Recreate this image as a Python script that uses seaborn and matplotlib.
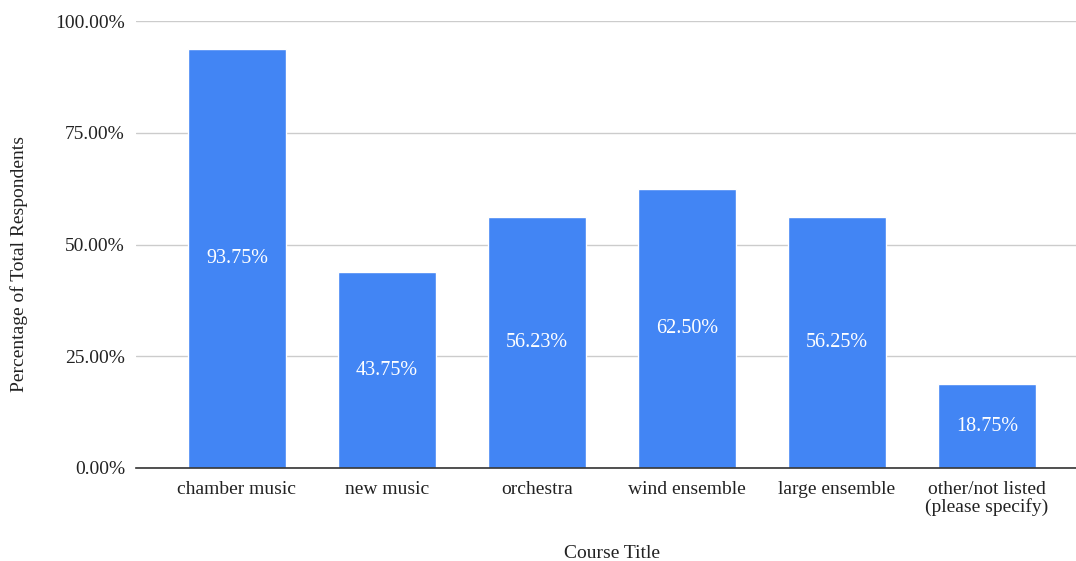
import matplotlib
matplotlib.use("Agg")
import matplotlib.pyplot as plt
import seaborn as sns
import pandas as pd
from matplotlib.ticker import FuncFormatter

courses = ["chamber music", "new music", "orchestra", "wind ensemble",
           "large ensemble", "other/not listed\n(please specify)"]
percent = [93.75, 43.75, 56.23, 62.50, 56.25, 18.75]
y_ticks = [0, 25, 50, 75, 100]

df = pd.DataFrame({"course": courses, "percent": percent})

sns.set_theme(style="white")
plt.rcParams["font.family"] = ["Liberation Serif", "DejaVu Serif"]

W, H = 1076, 561
fig = plt.figure(figsize=(W / 100, H / 100), dpi=100)
ax = fig.add_axes([136 / W, 93 / H, 940 / W, 447 / H])

sns.barplot(data=df, x="course", y="percent", color="#4285F4",
            saturation=1, width=0.65, ax=ax, zorder=3)

for patch, val in zip(ax.patches, percent):
    cx = patch.get_x() + patch.get_width() / 2
    ax.text(cx, val / 2, f"{val:.2f}%", ha="center", va="center",
            color="white", fontsize=14.5, zorder=4)

ax.set_ylim(0, 100)
ax.set_xlim(-0.673, 5.593)
ax.set_yticks(y_ticks)
ax.yaxis.set_major_formatter(FuncFormatter(lambda v, p: f"{v:.2f}%"))
ax.grid(axis="y", color="#cccccc", linewidth=1, zorder=0)
ax.grid(axis="x", visible=False)

for side in ["top", "right", "left"]:
    ax.spines[side].set_visible(False)
ax.spines["bottom"].set_color("#333333")
ax.spines["bottom"].set_linewidth(1.2)
ax.spines["bottom"].set_zorder(5)

ax.tick_params(axis="both", length=0, labelsize=14, colors="#222222")
ax.tick_params(axis="y", pad=8)
ax.tick_params(axis="x", pad=9)
for lbl in ax.get_xticklabels():
    lbl.set_linespacing(1.05)

ax.set_xlabel("Course Title", fontsize=14, color="#222222")
ax.xaxis.set_label_coords((612 - 136) / 940, (H - 553 - 93) / 447)
ax.xaxis.label.set_va("center")
ax.set_ylabel("Percentage of Total Respondents", fontsize=14, color="#222222")
ax.yaxis.set_label_coords((19 - 136) / 940, (H - 264 - 93) / 447)
ax.yaxis.label.set_va("center")

fig.savefig("out.png", dpi=100, facecolor="white")
